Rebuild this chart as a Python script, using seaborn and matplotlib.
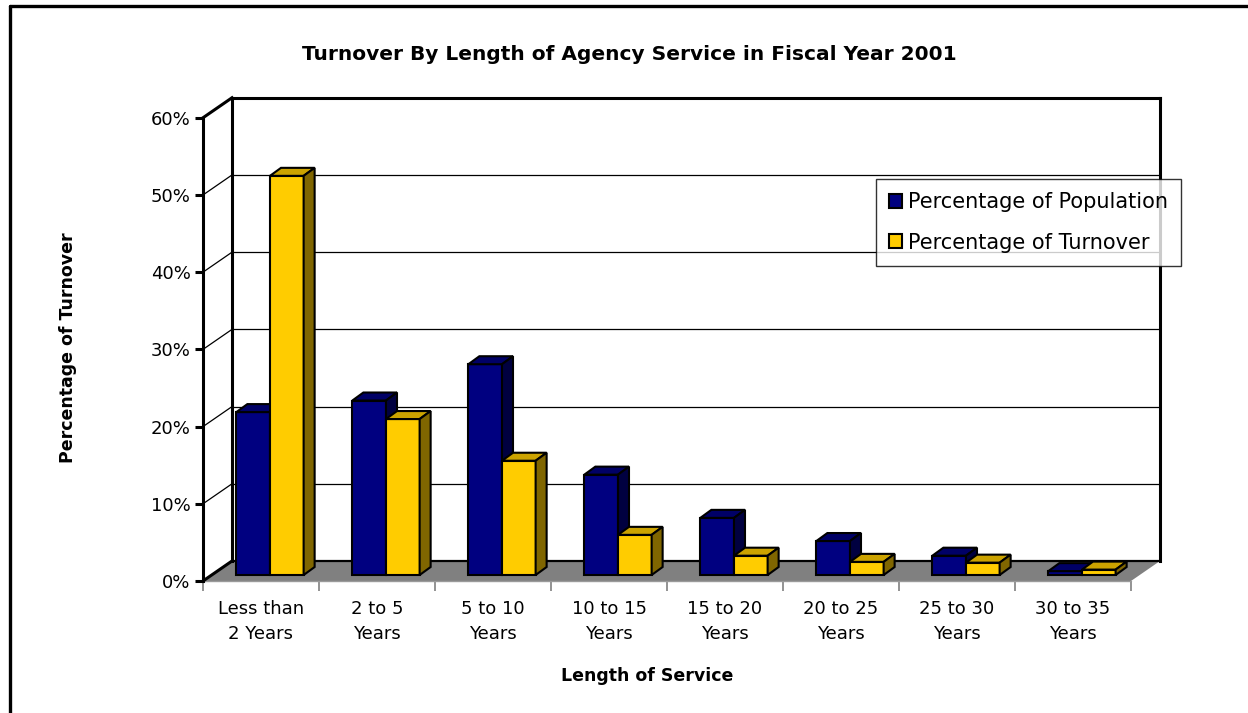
import numpy as np
import pandas as pd
import matplotlib
matplotlib.use("Agg")
import matplotlib.pyplot as plt
from matplotlib.patches import Polygon, Patch, Rectangle
from matplotlib.lines import Line2D
import seaborn as sns

categories = ["Less than\n2 Years", "2 to 5\nYears", "5 to 10\nYears", "10 to 15\nYears",
              "15 to 20\nYears", "20 to 25\nYears", "25 to 30\nYears", "30 to 35\nYears"]
population = [21.1, 22.6, 27.3, 13.0, 7.4, 4.4, 2.5, 0.5]
turnover = [51.7, 20.2, 14.8, 5.2, 2.5, 1.7, 1.6, 0.7]
series_names = ["Percentage of Population", "Percentage of Turnover"]
yticks = [0, 10, 20, 30, 40, 50, 60]
ytick_labels = ["0%", "10%", "20%", "30%", "40%", "50%", "60%"]

NAVY = "#000080"
GOLD = "#FFCC00"

sns.set_theme(style="white")
plt.rcParams["font.family"] = ["DejaVu Sans"]
plt.rcParams["text.color"] = "black"

df = pd.DataFrame({
    "cat": categories * 2,
    "val": population + turnover,
    "series": [series_names[0]] * len(categories) + [series_names[1]] * len(categories),
})

W, H = 1248, 713
fig = plt.figure(figsize=(W / 100, H / 100), dpi=100)
ax = fig.add_axes([203 / W, (H - 581) / H, 962.8 / W, (581 - 94.6) / H])

sns.barplot(data=df, x="cat", y="val", hue="series", palette=[NAVY, GOLD],
            width=0.58, edgecolor="black", linewidth=1.5, ax=ax, legend=False,
            saturation=1)
bars = [p for p in ax.patches if isinstance(p, Rectangle)]
ax.set_xlim(-0.5, 7.8)
ax.set_ylim(0, 63)
for s in ax.spines.values():
    s.set_visible(False)
ax.set_xlabel("")
ax.set_ylabel("")


def px2data(dxp, dyp):
    inv = ax.transData.inverted()
    base = ax.transData.transform((0, 0))
    p1 = inv.transform((base[0] + dxp, base[1] + dyp))
    return p1[0], p1[1]


DX, DY = px2data(29, 20)      # wall depth
SX, SY = px2data(9, 6)        # bar front shift
BX, BY = px2data(11, 8)       # bar depth
x_left, x_right = -0.5, 7.5
ymax = 60

# back wall
ax.add_patch(Polygon([(x_left + DX, DY), (x_right + DX, DY), (x_right + DX, ymax + DY),
                      (x_left + DX, ymax + DY)], closed=True, facecolor="white",
                     edgecolor="none", zorder=0.5, clip_on=False))
for v in yticks[1:-1]:
    ax.plot([x_left + DX, x_right + DX], [v + DY, v + DY], color="black", lw=0.9,
            zorder=0.8, clip_on=False)
    ax.plot([x_left, x_left + DX], [v, v + DY], color="black", lw=0.9,
            zorder=0.8, clip_on=False)
# floor
ax.add_patch(Polygon([(x_left, 0), (x_right, 0), (x_right + DX, DY), (x_left + DX, DY)],
                     closed=True, facecolor="#808080", edgecolor="none", zorder=1,
                     clip_on=False))
ax.plot([x_left, x_right], [0, 0], color="#9a9a9a", lw=1.0, zorder=1.1, clip_on=False)
ax.plot([x_left + DX, x_right + DX], [DY, DY], color="black", lw=1.6, zorder=1.1,
        clip_on=False)
# frame edges
thick = dict(color="black", lw=2.2, zorder=1.2, clip_on=False, solid_capstyle="projecting")
ax.plot([x_left, x_left], [0, ymax], **thick)
ax.plot([x_left, x_left + DX], [0, DY], **thick)
ax.plot([x_left, x_left + DX], [ymax, ymax + DY], **thick)
ax.plot([x_left + DX, x_left + DX], [DY, ymax + DY], **thick)
ax.plot([x_left + DX, x_right + DX], [ymax + DY, ymax + DY], **thick)
ax.plot([x_right + DX, x_right + DX], [DY, ymax + DY], **thick)

# 3D bars
for p in bars:
    fc = np.array(p.get_facecolor()[:3])
    z = 3 if np.allclose(fc, matplotlib.colors.to_rgb(NAVY), atol=0.02) else 4
    x0 = p.get_x() + SX
    w = p.get_width()
    h = p.get_height()
    p.set_x(x0)
    p.set_y(SY)
    p.set_zorder(z)
    p.set_clip_on(False)
    top = [(x0, SY + h), (x0 + w, SY + h), (x0 + w + BX, SY + h + BY), (x0 + BX, SY + h + BY)]
    side = [(x0 + w, SY), (x0 + w + BX, SY + BY), (x0 + w + BX, SY + h + BY), (x0 + w, SY + h)]
    ax.add_patch(Polygon(top, closed=True, facecolor=fc * 0.8, edgecolor="black",
                         lw=1.5, zorder=z, clip_on=False, joinstyle="miter"))
    ax.add_patch(Polygon(side, closed=True, facecolor=fc * 0.5, edgecolor="black",
                         lw=1.5, zorder=z, clip_on=False, joinstyle="miter"))

FS = 13

# ticks
ax.set_yticks(yticks)
ax.set_yticklabels(ytick_labels)
ax.tick_params(axis="y", which="major", left=True, length=6, width=2.2, color="black",
               pad=3, labelsize=FS, labelcolor="black")
ax.set_xticks(range(len(categories)))
ax.set_xticklabels(categories, linespacing=1.45)
ax.set_xticks(np.arange(-0.5, 8, 1), minor=True)
ax.tick_params(axis="x", which="major", bottom=False, length=0, pad=14, labelsize=FS,
               labelcolor="black")
ax.tick_params(axis="x", which="minor", bottom=True, length=7, width=1.2, color="#808080")
ax.grid(False)

# titles
fig.text(629 / W, 1 - 55 / H, "Turnover By Length of Agency Service in Fiscal Year 2001",
         ha="center", va="center", fontsize=14.5, fontweight="bold", color="black")
fig.text(647 / W, 1 - 676 / H, "Length of Service", ha="center", va="center",
         fontsize=12.5, fontweight="bold", color="black")
fig.text(68 / W, 1 - 348 / H, "Percentage of Turnover", ha="center", va="center",
         rotation=90, fontsize=12.5, fontweight="bold", color="black")

# legend
handles = [Patch(facecolor=NAVY, edgecolor="black", lw=1.5),
           Patch(facecolor=GOLD, edgecolor="black", lw=1.5)]
leg = fig.legend(handles, series_names, loc="upper left",
                 bbox_to_anchor=(876 / W, 1 - 179 / H), frameon=True, fancybox=False,
                 edgecolor="black", fontsize=15, handlelength=0.65, handleheight=0.65,
                 handletextpad=0.25, borderpad=0.62, labelspacing=1.0, borderaxespad=0,
                 labelcolor="black")
leg.get_frame().set_linewidth(1.0)

# outer border
fig.add_artist(Line2D([10 / W, 10 / W], [0, 1 - 6 / H], color="black", lw=2.4))
fig.add_artist(Line2D([10 / W, 1], [1 - 6 / H, 1 - 6 / H], color="black", lw=2.4))

fig.savefig("out.png", dpi=100)
